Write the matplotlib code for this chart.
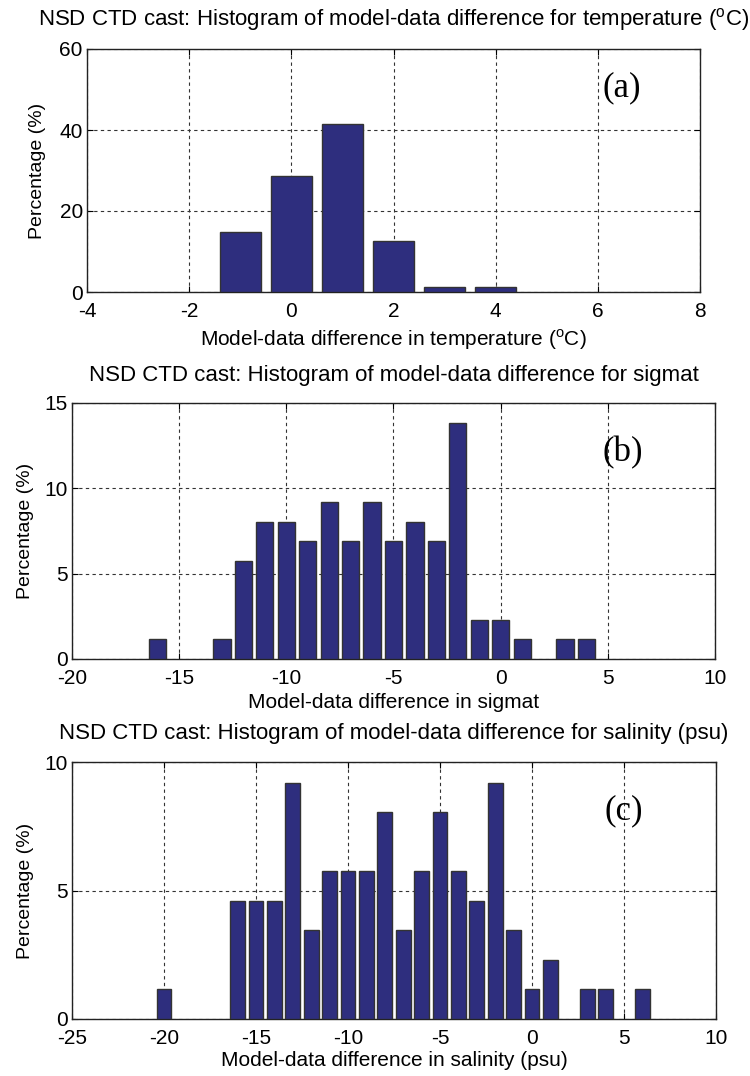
import matplotlib
matplotlib.use('Agg')
import matplotlib.pyplot as plt

plt.rcParams['font.family'] = 'Liberation Sans'
plt.rcParams['mathtext.fontset'] = 'custom'
plt.rcParams['mathtext.rm'] = 'Liberation Sans'
plt.rcParams['axes.unicode_minus'] = False

# panel (a): temperature
temp_bins = [-1, 0, 1, 2, 3, 4]
temp_pct = [14.9, 28.7, 41.4, 12.6, 1.15, 1.15]

# panel (b): sigmat
sig_bins = [-16, -13, -12, -11, -10, -9, -8, -7, -6, -5, -4, -3, -2, -1, 0, 1, 3, 4]
sig_pct = [1.15, 1.15, 5.75, 8.05, 8.05, 6.9, 9.2, 6.9, 9.2, 6.9, 8.05, 6.9, 13.8,
           2.3, 2.3, 1.15, 1.15, 1.15]

# panel (c): salinity
sal_bins = [-20, -16, -15, -14, -13, -12, -11, -10, -9, -8, -7, -6, -5, -4, -3,
            -2, -1, 0, 1, 3, 4, 6]
sal_pct = [1.15, 4.6, 4.6, 4.6, 9.2, 3.45, 5.75, 5.75, 5.75, 8.05, 3.45, 5.75,
           8.05, 5.75, 4.6, 9.2, 3.45, 1.15, 2.3, 1.15, 1.15, 1.15]

bar_color = '#2e2e7e'
W, H = 750, 1076
fig = plt.figure(figsize=(W / 100, H / 100), dpi=100)

# pixel boxes: left, top, right, bottom; then y centres of title / xlabel and x centre of ylabel
panels = [
    dict(box=(87, 49, 700, 292), x=temp_bins, y=temp_pct,
         xlim=(-4, 8), xt=range(-4, 9, 2), ylim=(0, 60), yt=[0, 20, 40, 60],
         title=r'NSD CTD cast: Histogram of model-data difference for temperature ($^{\mathrm{o}}$C)',
         xlabel=r'Model-data difference in temperature ($^{\mathrm{o}}$C)',
         tag='(a)', tagxy=(622, 88), ty=19, xly=340, ylx=38),
    dict(box=(72, 403, 715, 659), x=sig_bins, y=sig_pct,
         xlim=(-20, 10), xt=range(-20, 11, 5), ylim=(0, 15), yt=[0, 5, 10, 15],
         title='NSD CTD cast: Histogram of model-data difference for sigmat',
         xlabel='Model-data difference in sigmat',
         tag='(b)', tagxy=(623, 453), ty=375, xly=702, ylx=25),
    dict(box=(72, 762, 716, 1019), x=sal_bins, y=sal_pct,
         xlim=(-25, 10), xt=range(-25, 11, 5), ylim=(0, 10), yt=[0, 5, 10],
         title='NSD CTD cast: Histogram of model-data difference for salinity (psu)',
         xlabel='Model-data difference in salinity (psu)',
         tag='(c)', tagxy=(624, 811), ty=734, xly=1060, ylx=25),
]

for p in panels:
    l, t, r, b = p['box']
    ax = fig.add_axes([l / W, 1 - b / H, (r - l) / W, (b - t) / H])
    aw, ah = r - l, b - t
    ax.bar(p['x'], p['y'], width=0.8, color=bar_color, edgecolor='#333333',
           linewidth=1, zorder=3)
    ax.set_xlim(p['xlim'])
    ax.set_ylim(p['ylim'])
    ax.set_xticks(list(p['xt']))
    ax.set_yticks(p['yt'])
    ax.grid(True, linestyle=(0, (3, 3)), color='#333333', linewidth=0.8, zorder=0)
    ax.tick_params(direction='in', length=4, top=True, right=True, labelsize=15)
    ax.tick_params(axis='x', pad=7)
    ax.tick_params(axis='y', pad=3)
    for s in ax.spines.values():
        s.set_linewidth(1)
        s.set_color('#222222')
    ax.text(0.5, (b - p['ty']) / ah, p['title'], transform=ax.transAxes,
            fontsize=16, ha='center', va='center')
    ax.set_xlabel(p['xlabel'], fontsize=15)
    ax.xaxis.set_label_coords(0.5, (b - p['xly']) / ah)
    ax.xaxis.label.set_va('center')
    ax.set_ylabel('Percentage (%)', fontsize=14)
    ax.yaxis.set_label_coords((p['ylx'] - l) / aw, 0.5)
    ax.yaxis.label.set_va('center')
    ax.yaxis.label.set_ha('center')
    ax.text((p['tagxy'][0] - l) / aw, (b - p['tagxy'][1]) / ah, p['tag'],
            transform=ax.transAxes, fontsize=25, family='Liberation Serif',
            ha='center', va='center', zorder=5)

fig.savefig('out.png', dpi=100)
